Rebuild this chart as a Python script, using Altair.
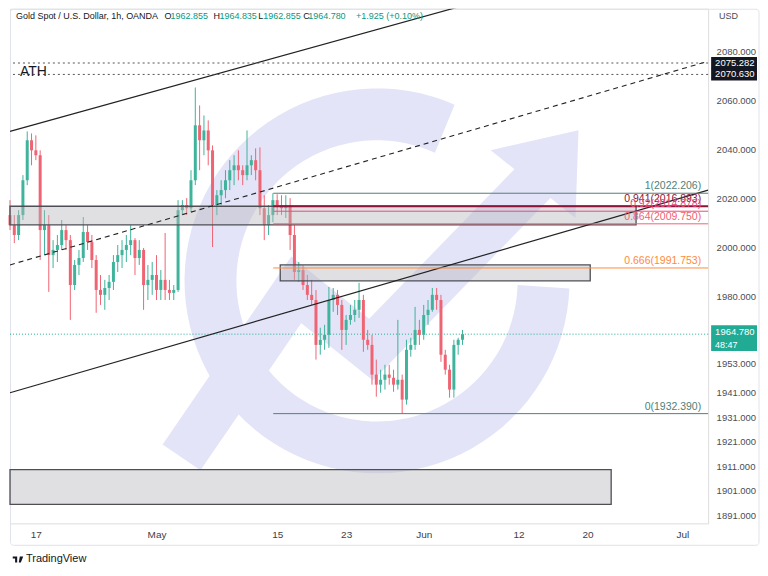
import math
import altair as alt
import pandas as pd

# ---------------- values ----------------
CANDLE_START = "2023-04-14 00:00"
CANDLE_STEP = "12h"
FIRST_OPEN = 2013.3
HIGHS = [2019.4, 2013.3, 2015.3, 2029.6, 2047.4, 2046.6, 2045.8, 2039.7, 2015.3, 2013.3,
         2003.1, 2005.2, 2011.3, 2009.2, 2005.2, 1995.0, 1999.1, 2012.5, 2009.2, 2005.2,
         1997.0, 1988.9, 1986.9, 1988.9, 1997.0, 2001.1, 2003.1, 2005.2, 2009.2, 2003.9,
         2003.1, 1999.9, 1993.0, 1994.2, 1997.0, 1990.9, 2006.0, 1986.9, 1984.8, 2019.4,
         2019.4, 2020.2, 2031.6, 2065.3, 2058.0, 2053.9, 2051.9, 2041.7, 2023.5, 2027.5,
         2031.6, 2035.7, 2037.7, 2039.7, 2033.6, 2047.8, 2037.7, 2040.5, 2040.9, 2021.4,
         2017.4, 2022.2, 2021.8, 2021.4, 2021.4, 2020.2, 2009.2, 1994.2, 1993.0, 1988.9,
         1986.9, 1982.8, 1967.4, 1968.6, 1984.0, 1983.6, 1982.8, 1978.7, 1972.6, 1976.7,
         1978.7, 1985.7, 1980.8, 1966.5, 1964.5, 1954.4, 1950.3, 1952.3, 1952.3, 1950.3,
         1970.6, 1948.3, 1962.5, 1963.3, 1975.9, 1970.6, 1976.7, 1978.7, 1983.6, 1983.6,
         1980.8, 1958.4, 1952.3, 1962.5, 1963.3, 1966.5]
LOWS = [2007.2, 2001.9, 2003.1, 2011.3, 2025.5, 2033.6, 2035.7, 1995.0, 1997.0, 1982.0,
        1991.7, 1994.2, 1999.1, 1999.1, 1970.6, 1982.8, 1988.9, 1994.2, 1999.1, 1991.7,
        1973.5, 1976.7, 1974.7, 1978.7, 1982.8, 1990.1, 1991.7, 1994.2, 1997.0, 1988.9,
        1993.0, 1974.7, 1978.7, 1980.8, 1978.7, 1978.7, 1978.7, 1978.7, 1978.7, 1982.0,
        2013.3, 2013.3, 2014.5, 2025.5, 2031.6, 2037.7, 2033.6, 2000.3, 2013.3, 2017.4,
        2020.2, 2023.5, 2025.5, 2027.5, 2025.5, 2027.5, 2029.6, 2027.5, 2013.3, 2003.1,
        2005.2, 2010.4, 2013.3, 2013.3, 2012.1, 1999.1, 1986.9, 1986.1, 1982.8, 1978.7,
        1976.7, 1954.4, 1956.4, 1958.4, 1959.2, 1973.9, 1972.6, 1958.4, 1960.4, 1968.6,
        1969.8, 1971.4, 1957.6, 1958.4, 1944.2, 1939.3, 1940.9, 1942.2, 1944.2, 1941.3,
        1942.2, 1932.39, 1936.1, 1955.6, 1958.4, 1960.4, 1962.5, 1968.6, 1973.9, 1974.7,
        1953.5, 1948.3, 1938.9, 1938.9, 1956.4, 1960.4]
CLOSES = [2009.2, 2005.2, 2013.3, 2027.5, 2043.8, 2039.7, 2037.7, 2007.2, 2009.2, 1997.0,
          1999.1, 2001.1, 2007.2, 2003.1, 1984.8, 1993.0, 1995.8, 2006.4, 2002.3, 1995.0,
          1982.8, 1980.8, 1983.6, 1986.1, 1994.2, 1997.0, 1999.1, 2001.1, 2003.1, 1995.8,
          1999.1, 1984.8, 1986.9, 1988.9, 1982.8, 1986.9, 1982.8, 1981.6, 1982.8, 2015.3,
          2017.4, 2016.1, 2027.5, 2049.9, 2043.8, 2047.8, 2039.7, 2017.4, 2021.4, 2023.5,
          2027.5, 2031.6, 2033.6, 2031.6, 2029.6, 2033.6, 2035.7, 2031.6, 2016.1, 2009.2,
          2013.3, 2019.4, 2017.4, 2016.1, 2017.4, 2005.2, 1990.1, 1990.9, 1984.8, 1980.8,
          1978.7, 1960.4, 1962.5, 1964.5, 1978.7, 1980.8, 1976.7, 1966.5, 1970.6, 1972.6,
          1974.7, 1978.7, 1962.5, 1960.4, 1948.3, 1944.2, 1946.2, 1948.3, 1947.0, 1944.2,
          1946.2, 1938.1, 1958.4, 1960.4, 1966.5, 1964.5, 1972.6, 1974.7, 1980.8, 1978.7,
          1956.4, 1950.3, 1942.2, 1960.4, 1962.5, 1964.78]

HEADER_TITLE = "Gold Spot / U.S. Dollar, 1h, OANDA"
HEADER_O, HEADER_H, HEADER_L, HEADER_C = "1962.855", "1964.835", "1962.855", "1964.780"
HEADER_CHANGE = "+1.925 (+0.10%)"
LAST_PRICE = 1964.780
LAST_PRICE_TEXT = "1964.780"
COUNTDOWN = "48:47"

ATH_PRICES = [2075.282, 2070.630]
ATH_TEXTS = ["2075.282", "2070.630"]
ATH_LABEL_PRICE = 2071.8

FIB_NAMES = ["1", "0.941", "0.92", "0.864", "0.666", "0"]
FIB_TEXTS = ["1(2022.206)", "0.941(2016.893)", "0.92(2014.878)", "0.864(2009.750)",
             "0.666(1991.753)", "0(1932.390)"]
FIB_PRICES = [2022.206, 2016.893, 2014.878, 2009.750, 1991.753, 1932.390]
FIB_START = "2023-05-14T13:00"
FIB_END = "2023-07-04T00:00"

ZONE_START = ["2023-04-14T00:00", "2023-05-15T08:30", "2023-04-14T00:00"]
ZONE_END = ["2023-06-25T15:20", "2023-06-20T07:40", "2023-06-22T18:00"]
ZONE_TOP = [2016.9, 1993.0, 1909.6]
ZONE_BOTTOM = [2009.3, 1986.5, 1895.4]

TREND_KIND = ["solid", "solid", "dashed"]
TREND_T1 = ["2023-04-14T00:00", "2023-04-14T00:00", "2023-04-14T00:00"]
TREND_P1 = [2047.4, 1940.9, 1993.0]
TREND_T2 = ["2023-06-06T10:30", "2023-07-04T00:00", "2023-07-04T00:00"]
TREND_P2 = [2099.5, 2023.5, 2076.0]

Y_TICKS = [2080, 2060, 2040, 2020, 2000, 1980, 1953, 1941, 1931, 1921, 1911, 1901, 1891]
X_TICK_DATES = [(4, 17), (5, 1), (5, 15), (5, 23), (6, 1), (6, 12), (6, 20), (7, 1)]
X_DOMAIN = [(4, 14), (7, 4)]
Y_DOMAIN = [1887.67, 2097.4]

WATERMARK_TIME = "2023-05-26T14:00"
WATERMARK_PRICE = 1986.5

# ---------------- tables ----------------
times = pd.date_range(CANDLE_START, periods=len(CLOSES), freq=CANDLE_STEP).strftime("%Y-%m-%dT%H:%M")
OPENS = [FIRST_OPEN] + CLOSES[:-1]
candles = pd.DataFrame({"t": list(times), "open": OPENS, "high": HIGHS, "low": LOWS, "close": CLOSES})
zones = pd.DataFrame({"t1": ZONE_START, "t2": ZONE_END, "top": ZONE_TOP, "bottom": ZONE_BOTTOM})
trends = pd.DataFrame({"kind": TREND_KIND, "t1": TREND_T1, "p1": TREND_P1, "t2": TREND_T2, "p2": TREND_P2})
fibs = pd.DataFrame({"name": FIB_NAMES, "text": FIB_TEXTS, "price": FIB_PRICES,
                     "t1": [FIB_START] * len(FIB_NAMES), "t2": [FIB_END] * len(FIB_NAMES)})
ath = pd.DataFrame({"price": ATH_PRICES, "text": ATH_TEXTS})
last = pd.DataFrame({"price": [LAST_PRICE], "text": [LAST_PRICE_TEXT], "count": [COUNTDOWN]})
wm = pd.DataFrame({"t": [WATERMARK_TIME], "p": [WATERMARK_PRICE]})
ONE = pd.DataFrame({"k": [0]})

# ---------------- styling ----------------
FONT = "Liberation Sans, Arial, sans-serif"
UP, DOWN = "#3fb39b", "#ef6473"
WM_COLOR = "#e3e4f8"

XS = alt.Scale(domain=[alt.DateTime(year=2023, month=m, date=d) for m, d in X_DOMAIN], nice=False, padding=0)
YS = alt.Scale(domain=Y_DOMAIN, zero=False, nice=False, padding=0)
XAXIS = alt.Axis(values=[alt.DateTime(year=2023, month=m, date=d) for m, d in X_TICK_DATES],
                 labelExpr="date(datum.value) == 1 ? timeFormat(datum.value, '%b') : timeFormat(datum.value, '%-d')",
                 ticks=False, domain=False, grid=False, labelPadding=6, labelFontSize=10,
                 labelColor="#3d404a", labelFont=FONT, labelFlush=False, labelOverlap=False, title=None)
YAXIS = alt.Axis(orient="right", values=Y_TICKS, format=".3f", ticks=False, domain=False, grid=False,
                 labelPadding=8, labelFontSize=9.5, labelColor="#4a4d57", labelFont=FONT,
                 labelOverlap=False, title=None)


def X(f):
    return alt.X(f, type="temporal", scale=XS, axis=XAXIS, title=None)


def Y(f):
    return alt.Y(f, type="quantitative", scale=YS, axis=YAXIS, title=None)


def txt(text, x, y, color, size=9, align="left", weight="normal"):
    return alt.Chart(ONE).mark_text(text=text, align=align, baseline="middle", font=FONT,
                                    fontSize=size, color=color, fontWeight=weight).encode(
        x=alt.value(x), y=alt.value(y))


# watermark shapes (unit = 200 px)
def arc_path(r, a0, a1, n=80):
    pts = []
    for k in range(n + 1):
        a = math.radians(a0 + (a1 - a0) * k / n)
        pts.append(f"{r * math.cos(a):.4f} {r * math.sin(a):.4f}")
    return "M " + " L ".join(pts)


RING = arc_path(0.835, 2, 294)
ZIG = "M -0.98 0.885 L -0.405 0.045 L -0.03 0.345 L 0.82 -0.53"
HEAD = "M 1.01 -0.755 L 0.57 -0.655 L 0.995 -0.315 Z"
TV_LOGO = ("M -1 -0.55 L -0.15 -0.55 L -0.15 0.6 L -0.55 0.6 L -0.55 -0.15 L -1 -0.15 Z "
           "M 0.35 -0.55 L 1 -0.55 L 0.55 0.6 L 0.15 0.6 Z")

layers = []

# frame
layers.append(alt.Chart(ONE).mark_rect(fillOpacity=0, stroke="#e0e3eb", strokeWidth=1, cornerRadius=3).encode(
    x=alt.value(0.5), x2=alt.value(751), y=alt.value(0.5), y2=alt.value(538)))

# watermark
wmb = alt.Chart(wm).encode(x=X("t"), y=Y("p"))
layers.append(wmb.mark_point(shape=RING, size=160000, filled=False, color=WM_COLOR, strokeWidth=52,
                             strokeCap="butt", opacity=1))
layers.append(wmb.mark_point(shape=ZIG, size=160000, filled=False, color=WM_COLOR, strokeWidth=46,
                             strokeCap="butt", strokeJoin="miter", opacity=1))
layers.append(wmb.mark_point(shape=HEAD, size=160000, filled=True, color=WM_COLOR, opacity=1))

# current price line
layers.append(alt.Chart(last).mark_rule(color="#22ab94", strokeDash=[1, 2], strokeWidth=1).encode(y=Y("price")))

# candles
cb = alt.Chart(candles).encode(
    x=X("t"),
    color=alt.condition("datum.close >= datum.open", alt.value(UP), alt.value(DOWN)))
layers.append(cb.mark_rule(strokeWidth=1).encode(y=Y("low"), y2="high"))
layers.append(cb.mark_bar(width=3).encode(y=Y("open"), y2="close"))

# zones
layers.append(alt.Chart(zones).mark_rect(fill="#b4b4ba", fillOpacity=0.42, stroke="#4d4f55", strokeWidth=1.3).encode(
    x=X("t1"), x2="t2", y=Y("top"), y2="bottom"))

# trend lines
layers.append(alt.Chart(trends).transform_filter("datum.kind == 'solid'").mark_rule(
    color="#222222", strokeWidth=1.2, clip=True).encode(x=X("t1"), x2="t2", y=Y("p1"), y2="p2"))
layers.append(alt.Chart(trends).transform_filter("datum.kind == 'dashed'").mark_rule(
    color="#222222", strokeWidth=1.1, strokeDash=[5, 4], clip=True).encode(x=X("t1"), x2="t2", y=Y("p1"), y2="p2"))

# ATH lines
layers.append(alt.Chart(ath).mark_rule(color="#555555", strokeDash=[2, 3], strokeWidth=1).encode(y=Y("price")))
layers.append(alt.Chart(pd.DataFrame({"p": [ATH_LABEL_PRICE]})).mark_text(
    text="ATH", align="left", baseline="middle", font=FONT, fontSize=14, color="#131722").encode(
    x=alt.value(10), y=Y("p")))

# fib lines and labels
fib_line_colors = alt.Scale(domain=FIB_NAMES,
                            range=["#4f7f78", "#8b1538", "#ec4a7e", "#f26075", "#ff8a3d", "#4f7f78"])
fib_text_colors = alt.Scale(domain=FIB_NAMES,
                            range=["#2a2e39", "#c2185b", "#d81b60", "#f23645", "#f57c00", "#2a2e39"])
fb = alt.Chart(fibs)
layers.append(fb.transform_filter("datum.name != '0.941'").mark_rule(strokeWidth=1).encode(
    x=X("t1"), x2="t2", y=Y("price"), color=alt.Color("name:N", scale=fib_line_colors, legend=None)))
layers.append(fb.transform_filter("datum.name == '0.941'").mark_rule(strokeWidth=2).encode(
    x=X("t1"), x2="t2", y=Y("price"), color=alt.Color("name:N", scale=fib_line_colors, legend=None)))
layers.append(fb.mark_text(align="right", baseline="bottom", dy=-2, font=FONT, fontSize=10.5).encode(
    x=alt.value(693), y=Y("price"), text="text:N",
    color=alt.Color("name:N", scale=fib_text_colors, legend=None)))

# price tags on the axis
layers.append(alt.Chart(ath).mark_rect(color="#131722", height=12).encode(
    x=alt.value(703), x2=alt.value(749), y=Y("price")))
layers.append(alt.Chart(ath).mark_text(color="white", align="left", baseline="middle", font=FONT,
                                       fontSize=9.5).encode(x=alt.value(707), y=Y("price"), text="text:N"))
layers.append(alt.Chart(last).mark_rect(color="#22ab94", height=26, yOffset=4).encode(
    x=alt.value(703), x2=alt.value(749), y=Y("price")))
layers.append(alt.Chart(last).mark_text(color="white", align="left", baseline="middle", font=FONT,
                                        fontSize=9.5, dy=-2).encode(x=alt.value(707), y=Y("price"), text="text:N"))
layers.append(alt.Chart(last).mark_text(color="white", align="left", baseline="middle", font=FONT,
                                        fontSize=9, dy=11).encode(x=alt.value(707), y=Y("price"), text="count:N"))

# header
DARK, TEAL = "#131722", "#089981"
layers += [
    txt(HEADER_TITLE, 6, 7, DARK),
    txt("O", 155, 7, DARK), txt(HEADER_O, 161, 7, TEAL),
    txt("H", 204, 7, DARK), txt(HEADER_H, 210, 7, TEAL),
    txt("L", 249, 7, DARK), txt(HEADER_L, 254, 7, TEAL),
    txt("C", 294, 7, DARK), txt(HEADER_C, 299, 7, TEAL),
    txt(HEADER_CHANGE, 347, 7, TEAL),
    txt("USD", 711, 7, "#4a4d57"),
    txt("TradingView", 16, 552, DARK, size=11),
]
layers.append(alt.Chart(ONE).mark_point(shape=TV_LOGO, size=110, filled=True, color=DARK, opacity=1).encode(
    x=alt.value(8), y=alt.value(552)))

chart = alt.layer(*layers).properties(
    width=700, height=516, padding={"left": 0, "top": 0, "right": 0, "bottom": 0}
).configure_view(stroke=None).configure(background="white")

chart.save("out.html", embed_options={"renderer": "svg", "actions": False})
